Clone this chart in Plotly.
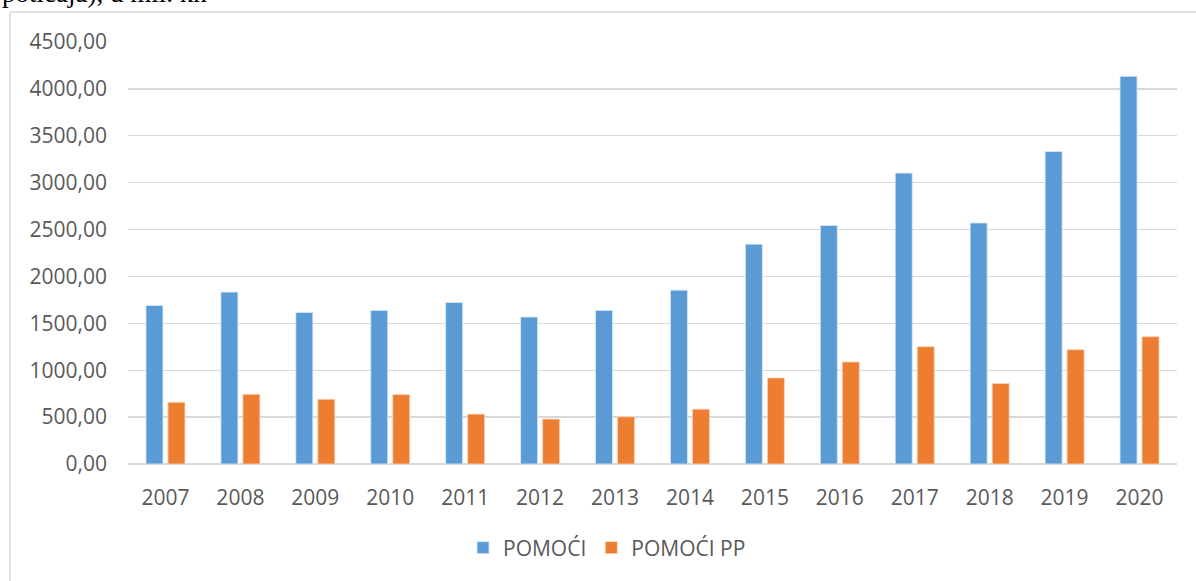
import plotly.graph_objects as go

years = ["2007", "2008", "2009", "2010", "2011", "2012", "2013",
         "2014", "2015", "2016", "2017", "2018", "2019", "2020"]
pomoci = [1691, 1833, 1616, 1638, 1723, 1567, 1638,
          1854, 2344, 2543, 3102, 2570, 3333, 4134]
pomoci_pp = [658, 743, 690, 740, 532, 479, 503,
             585, 918, 1088, 1251, 858, 1219, 1357]
y_ticks = [0, 500, 1000, 1500, 2000, 2500, 3000, 3500, 4000, 4500]
y_tick_labels = ["0,00", "500,00", "1000,00", "1500,00", "2000,00",
                 "2500,00", "3000,00", "3500,00", "4000,00", "4500,00"]

W, H = 1196, 581
L, R, T, B = 128, 19, 42, 117
pw = W - L - R
ph = H - T - B

def px2x(px):
    return (px - L) / pw

def py2y(py):
    return (H - B - py) / ph

fig = go.Figure()
fig.add_trace(go.Bar(x=years, y=pomoci, name="POMOĆI",
                     marker=dict(color="#5B9BD5", line=dict(color="#DCE9F5", width=0.8))))
fig.add_trace(go.Bar(x=years, y=pomoci_pp, name="POMOĆI PP",
                     marker=dict(color="#ED7D31", line=dict(color="#F8D5BD", width=0.8))))

font_family = "Open Sans, Noto Sans, sans-serif"

fig.update_layout(
    width=W, height=H,
    margin=dict(l=L, r=R, t=T, b=B, pad=0),
    paper_bgcolor="white", plot_bgcolor="white",
    barmode="group", bargap=0.413, bargroupgap=0.227,
    font=dict(family=font_family, size=21, color="#595959"),
    showlegend=True,
    legend=dict(orientation="h", x=px2x(463), xanchor="left",
                y=py2y(548), yanchor="middle",
                font=dict(size=21, color="#595959"),
                itemwidth=30, bgcolor="rgba(0,0,0,0)"),
    xaxis=dict(type="category", showgrid=False, showline=False,
               ticks="", ticklabelstandoff=19,
               tickfont=dict(size=21, color="#595959"), fixedrange=True),
    yaxis=dict(range=[0, 4500], tickvals=y_ticks, ticktext=y_tick_labels,
               showgrid=True, gridcolor="#D9D9D9", gridwidth=1.3,
               zeroline=True, zerolinecolor="#D9D9D9", zerolinewidth=1.6,
               showline=False, ticks="", ticklabelstandoff=20,
               tickfont=dict(size=21, color="#595959"), fixedrange=True),
)

# chart frame (left and top border of the embedded chart area)
fig.add_shape(type="line", xref="paper", yref="paper",
              x0=px2x(10), x1=px2x(10), y0=py2y(12), y1=py2y(600),
              line=dict(color="#D9D9D9", width=1.5))
fig.add_shape(type="line", xref="paper", yref="paper",
              x0=px2x(10), x1=px2x(1210), y0=py2y(12), y1=py2y(12),
              line=dict(color="#D9D9D9", width=1.5))

# clipped caption text from the surrounding document
fig.add_annotation(text="poticaja), u mil. kn", xref="paper", yref="paper",
                   x=px2x(0), y=py2y(10), xanchor="left", yanchor="bottom",
                   showarrow=False,
                   font=dict(family="Liberation Serif, Times New Roman, serif",
                             size=27, color="#000000"))

fig.write_html("out.html",
               config={"displayModeBar": False, "staticPlot": True},
               post_script="document.body.style.margin='0px';document.body.style.overflow='hidden';")
